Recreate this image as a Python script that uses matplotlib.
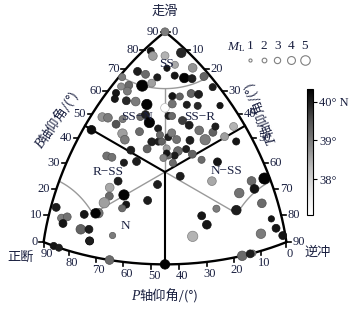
import numpy as np
import matplotlib
matplotlib.use('Agg')
import matplotlib.pyplot as plt
from matplotlib.colors import Normalize
from matplotlib.cm import ScalarMappable

# ---------------- data: plunges of T and P axes (deg), magnitude, latitude ----------------
T_PL = [0, 2, 10, 7, 4, 12, 17, 11, 4, 7, 11, 15, 18, 20, 22, 1, 5, 9, 11, 3,
        27, 3, 6, 4, 8, 11, 15, 21, 22, 20, 22, 24, 26, 26, 29, 34, 24, 25, 29, 4,
        6, 10, 16, 17, 20, 11, 3, 14, 16, 19, 25, 27, 24, 25, 20, 26, 29, 28, 31, 32,
        29, 32, 36, 40, 40, 39, 44, 43, 48, 36, 35, 35, 33, 32, 37, 40, 44, 32, 49, 36,
        13, 15, 24, 20, 21, 19, 20, 19, 25, 27, 26, 18, 17, 13, 34, 35, 41, 52, 63, 65,
        66, 63, 72, 66, 59, 55, 58, 54, 79, 77, 73, 76, 79, 83, 87, 45, 2, 5, 7, 6,
        13, 16, 17, 17, 25, 25, 4, 6]
P_PL = [0, 9, 2, 7, 10, 7, 3, 10, 18, 17, 15, 10, 8, 6, 2, 23, 24, 21, 18, 26,
        2, 29, 26, 31, 29, 27, 25, 21, 18, 16, 14, 10, 8, 14, 11, 4, 22, 21, 19, 39,
        38, 38, 30, 28, 29, 35, 45, 39, 40, 34, 33, 31, 28, 36, 41, 29, 27, 30, 30, 25,
        25, 18, 16, 16, 12, 10, 9, 4, 6, 21, 27, 29, 31, 31, 24, 23, 21, 33, 16, 31,
        49, 48, 42, 46, 52, 56, 58, 61, 53, 54, 56, 65, 66, 70, 46, 40, 31, 21, 7, 2,
        7, 13, 6, 16, 23, 29, 28, 34, 9, 13, 17, 14, 4, 3, 1, 45, 76, 78, 76, 79,
        74, 71, 72, 72, 63, 65, 86, 84]
ML = [4.0, 3.5, 5.0, 4.0, 4.5, 3.5, 4.5, 3.0, 4.0, 4.0, 3.5, 3.5, 5.0, 4.0, 4.0, 3.5, 4.0, 6.0, 4.0, 3.5,
      3.5, 3.5, 4.0, 3.5, 4.0, 4.5, 5.5, 4.5, 4.0, 3.5, 3.5, 4.0, 4.0, 3.5, 3.5, 3.0, 3.5, 3.5, 4.0, 4.5,
      4.5, 4.0, 3.5, 4.0, 5.5, 3.5, 4.5, 5.0, 4.5, 4.0, 4.0, 3.5, 3.5, 4.0, 4.0, 3.5, 3.5, 3.5, 3.5, 4.0,
      4.0, 4.0, 4.5, 5.5, 4.0, 3.5, 4.0, 4.0, 3.5, 4.0, 4.5, 3.5, 3.5, 3.0, 3.5, 4.0, 3.5, 3.5, 4.0, 3.5,
      4.0, 4.0, 4.0, 3.5, 4.0, 4.5, 4.0, 5.5, 5.5, 3.5, 3.5, 5.0, 5.0, 4.0, 4.0, 4.0, 4.0, 4.5, 4.5, 6.0,
      4.5, 5.0, 4.5, 5.0, 3.5, 4.0, 4.5, 5.5, 5.0, 3.0, 5.0, 4.0, 3.0, 4.0, 4.0, 5.0, 4.0, 4.0, 4.0, 4.0,
      5.0, 4.0, 4.0, 4.0, 3.0, 4.5, 3.5, 3.5]
LAT = [39.0, 40.1, 39.9, 38.4, 38.6, 38.5, 38.7, 40.1, 40.0, 39.2, 40.0, 40.1, 40.3, 40.0, 39.3, 39.0, 39.2, 40.3, 38.6, 38.8,
       40.0, 40.1, 39.0, 40.1, 39.9, 39.0, 40.3, 37.1, 39.1, 40.1, 39.3, 39.3, 40.0, 40.0, 39.9, 40.1, 40.0, 39.2, 39.7, 38.7,
       39.0, 39.5, 39.2, 40.0, 40.3, 39.0, 40.2, 38.6, 39.0, 39.2, 40.0, 40.0, 40.0, 39.3, 40.0, 39.2, 40.0, 39.3, 38.6, 39.1,
       39.0, 40.0, 39.1, 39.0, 39.3, 40.0, 38.6, 38.4, 40.1, 40.0, 39.2, 40.0, 39.2, 40.1, 40.0, 39.3, 39.2, 38.9, 40.1, 39.2,
       39.1, 39.1, 40.0, 40.0, 40.0, 38.5, 39.2, 38.6, 40.3, 40.1, 39.2, 39.1, 40.3, 40.1, 40.0, 40.0, 40.0, 38.5, 39.2, 40.3,
       40.1, 39.1, 39.2, 40.0, 39.0, 40.1, 40.1, 38.4, 39.0, 39.0, 39.2, 40.0, 40.1, 40.1, 40.1, 40.3, 40.0, 39.0, 39.1, 40.1,
       39.3, 40.0, 40.1, 40.0, 39.0, 39.2, 40.1, 40.0]
TICKS = list(range(0, 91, 10))
LEG_M = [1, 2, 3, 4, 5]
CB_TICKS = [38, 39, 40]
CB_LABELS = ['38°', '39°', '40° N']
LAT_RANGE = (37.07, 40.33)
CLASS_LIMIT = 67  # plunge (deg) of the pure-class boundaries

# B-axis plunge follows from sin^2 T + sin^2 B + sin^2 P = 1
sT = np.sin(np.radians(T_PL)); sP = np.sin(np.radians(P_PL))
B_PL = np.degrees(np.arcsin(np.sqrt(np.clip(1 - sT**2 - sP**2, 0, 1))))

plt.rcParams['font.family'] = ['Liberation Serif', 'Noto Sans CJK SC']
plt.rcParams['mathtext.fontset'] = 'custom'
plt.rcParams['mathtext.it'] = 'Liberation Serif:italic'
plt.rcParams['mathtext.rm'] = 'Liberation Serif'
TXT = '#1a2040'
S3 = np.sqrt(3)
CX, CY, SC = 165.0, 172.0, 152.5   # layout: diagram centre / scale in pixels


def proj_vec(zt, zb, zp):
    """Kaverina (equal-area) ternary projection of direction sines."""
    zt, zb, zp = np.asarray(zt, float), np.asarray(zb, float), np.asarray(zp, float)
    n = np.sqrt(zt**2 + zb**2 + zp**2)
    zt, zb, zp = zt/n, zb/n, zp/n
    L = 2*np.sin(0.5*np.arccos(np.clip((zt + zb + zp)/S3, -1, 1)))
    N = np.sqrt(2*((zb - zp)**2 + (zb - zt)**2 + (zt - zp)**2))
    N = np.where(N < 1e-12, 1, N)
    return S3*(L/N)*(zt - zp), (L/N)*(2*zb - zp - zt)


def proj(T, B, P):
    r = np.radians
    return proj_vec(np.sin(r(np.asarray(T, float))), np.sin(r(np.asarray(B, float))),
                    np.sin(r(np.asarray(P, float))))


def px(x, y):
    return (x - CX)/SC, (CY - y)/SC


fig = plt.figure(figsize=(3.56, 3.16), dpi=100)
ax = fig.add_axes([0, 0, 1, 1])
ax.set_xlim(-CX/SC, (356 - CX)/SC)
ax.set_ylim(-(316 - CY)/SC, CY/SC)
ax.axis('off')

# triangle edges
a = np.linspace(0, 90, 300)
z0 = np.zeros_like(a)
for xy in (proj(z0, a, 90 - a), proj(a, 90 - a, z0), proj(90 - a, z0, a)):
    ax.plot(*xy, color='black', lw=1.7, solid_capstyle='round', zorder=3)

# class boundaries
c0 = 1/S3
SB = np.sin(np.radians(CLASS_LIMIT))


def seg(v0, v1):
    v = np.linspace(v0, v1, 100)
    return v, np.sqrt((1 - v**2)/2)


v, s = seg(c0, 0)
for xy in (proj_vec(s, v, s), proj_vec(v, s, s), proj_vec(s, s, v)):
    ax.plot(*xy, color='black', lw=1.5, zorder=3)
GR = '#9a9a9a'
v, s = seg(c0, SB)
for xy in (proj_vec(s, v, s), proj_vec(v, s, s), proj_vec(s, s, v)):
    ax.plot(*xy, color=GR, lw=1.0, zorder=2)
rc = np.sqrt(1 - SB**2)
f = np.linspace(0, np.pi/2, 100)
ax.plot(*proj_vec(rc*np.cos(f), SB + 0*f, rc*np.sin(f)), color=GR, lw=1.0, zorder=2)
f = np.linspace(0, np.pi/4, 60)
ax.plot(*proj_vec(rc*np.sin(f), rc*np.cos(f), SB + 0*f), color=GR, lw=1.0, zorder=2)
ax.plot(*proj_vec(SB + 0*f, rc*np.cos(f), rc*np.sin(f)), color=GR, lw=1.0, zorder=2)

# edge ticks
d = 4.5/SC
for k in TICKS:
    x, y = proj(0, k, 90 - k)
    ax.plot([x, x - d], [y, y], color='black', lw=1.2, zorder=3)
    ax.text(x - d - 1.5/SC, y, str(k), ha='right', va='center', fontsize=9, color=TXT)
    x, y = proj(k, 90 - k, 0)
    ax.plot([x, x + d], [y, y], color='black', lw=1.2, zorder=3)
    ax.text(x + d + 1.5/SC, y, str(k), ha='left', va='center', fontsize=9, color=TXT)
    x, y = proj(90 - k, 0, k)
    ax.plot([x, x], [y, y - d], color='black', lw=1.2, zorder=3)
    ax.text(x + 3/SC, y - 12/SC, str(k), ha='center', va='center', fontsize=9, color=TXT)

# events
norm = Normalize(*LAT_RANGE)
cmap = plt.get_cmap('Greys')
xs, ys = proj(T_PL, B_PL, P_PL)
fc = cmap(norm(np.array(LAT)))
ec = fc.copy(); ec[:, :3] *= 0.72
dpx = 1.6*np.array(ML) + 1.5
ax.scatter(xs, ys, s=(dpx*0.72)**2, c=fc, edgecolors=ec, linewidths=0.5, zorder=5)

# region labels
for t, (x, y) in [('SS', (166, 64)), ('SS−N', (137, 117)), ('SS−R', (200, 117)),
                  ('R−SS', (108, 172)), ('N−SS', (226, 171)), ('N', (125, 226))]:
    ax.text(*px(x, y), t, ha='center', va='center', fontsize=9.5, color=TXT, zorder=6)

# corner labels and axis titles
CJK = ['Noto Sans CJK SC']
ax.text(*px(165, 11), '走滑', ha='center', va='center', fontsize=9.5, color=TXT, family=CJK)
ax.text(*px(21, 257), '正断', ha='center', va='center', fontsize=9.5, color=TXT, family=CJK)
ax.text(*px(318, 252), '逆冲', ha='center', va='center', fontsize=9.5, color=TXT, family=CJK)
ax.text(*px(131, 296), 'P', ha='left', va='center', fontsize=10, style='italic', color=TXT)
ax.text(*px(139, 296), '轴仰角/(°)', ha='left', va='center', fontsize=9.5, color=TXT,
        family=CJK + ['Liberation Serif'])
for ang, letter, start, off in ((56, 'B', (39, 147), 7.5), (112, 'T', (273, 143), 7)):
    ca, sa = np.cos(np.radians(ang)), np.sin(np.radians(ang))
    x0, y0 = px(*start)
    ax.text(x0, y0, letter, ha='left', va='center', rotation=ang, rotation_mode='anchor',
            fontsize=10, style='italic', color=TXT)
    ax.text(x0 + ca*off/SC, y0 + sa*off/SC, '轴仰角/(°)', ha='left', va='center', rotation=ang,
            rotation_mode='anchor', fontsize=9.5, color=TXT, family=CJK + ['Liberation Serif'])

# magnitude legend
ax.text(*px(236, 47), r'$M_{\rm L}$', ha='center', va='center', fontsize=9.5, color=TXT)
for i, m in enumerate(LEG_M):
    x = 250 + 13.7*i
    ax.text(*px(x, 46), str(m), ha='center', va='center', fontsize=9.5, color=TXT)
    ax.scatter(*px(x, 60), s=((1.6*m + 1.5)*0.72)**2, facecolors='white',
               edgecolors='#808080', linewidths=0.8, zorder=5)

# latitude colour bar
cax = fig.add_axes([307/356, (316 - 215)/316, 6/356, 126/316])
cb = fig.colorbar(ScalarMappable(norm=norm, cmap=cmap), cax=cax)
cb.set_ticks(CB_TICKS)
cb.set_ticklabels(CB_LABELS)
cb.ax.tick_params(length=3, width=0.8, labelsize=9, labelcolor=TXT, pad=1.5)
cb.outline.set_linewidth(0.8)

fig.savefig('out.png', dpi=100)
